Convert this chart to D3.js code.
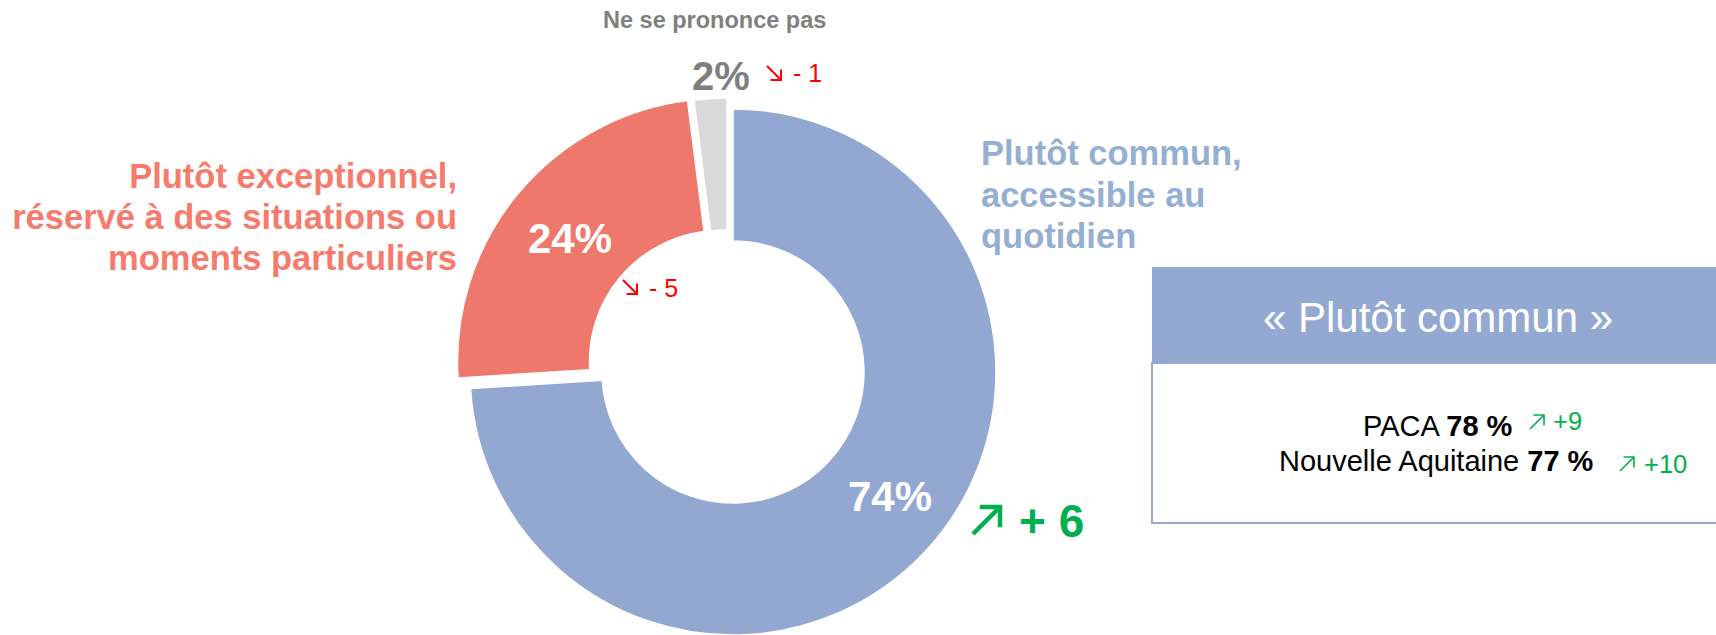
<!DOCTYPE html>
<html>
<head>
<meta charset="utf-8">
<script src="https://cdn.jsdelivr.net/npm/d3@7"></script>
<style>
  html, body { margin: 0; padding: 0; background: #fff; }
  svg { display: block; }
  text { font-family: "Liberation Sans", Arial, sans-serif; }
</style>
</head>
<body>
<svg id="chart" width="1716" height="635"></svg>
<script>
// ---- Data ----
const categories = [
  ["Plutôt commun,", "accessible au", "quotidien"],
  ["Plutôt exceptionnel,", "réservé à des situations ou", "moments particuliers"],
  ["Ne se prononce pas"]
];
const values = [74, 24, 2];
const changes = [6, -5, -1];
const boxTitle = "« Plutôt commun »";
const regions = ["PACA", "Nouvelle Aquitaine"];
const regionValues = [78, 77];
const regionChanges = [9, 10];

// ---- Styles / layout ----
const sliceColors = ["#93A8D0", "#EE786C", "#D9D9D9"];
const labelColors = ["#95AFD3", "#F77B6D", "#7F7F7F"];
const green = "#00B050", red = "#FF0000";
const center = [733, 372];
const outerR = 263, innerR = 131;
const explode = [[0, 0], [-12.5, -10.5], [-6, -11]];

const svg = d3.select("#chart");

const pie = d3.pie().sort(null).value(d => d);
const arc = d3.arc().innerRadius(innerR).outerRadius(outerR);
const arcs = pie(values);

svg.append("g")
  .selectAll("path")
  .data(arcs)
  .join("path")
  .attr("transform", (d, i) => `translate(${center[0] + explode[i][0]},${center[1] + explode[i][1]})`)
  .attr("d", arc)
  .attr("fill", (d, i) => sliceColors[i])
  .attr("stroke", "#fff")
  .attr("stroke-width", 1.5);

// arrow helper
function arrow(g, x, y, s, up, color, w) {
  const h = s * 0.75;
  let p;
  if (up) {
    p = `M${x},${y + s}L${x + s},${y}M${x + s - h},${y}L${x + s},${y}L${x + s},${y + h}`;
  } else {
    p = `M${x},${y}L${x + s},${y + s}M${x + s},${y + s - h}L${x + s},${y + s}L${x + s - h},${y + s}`;
  }
  g.append("path").attr("d", p).attr("fill", "none").attr("stroke", color)
    .attr("stroke-width", w).attr("stroke-linecap", "butt").attr("stroke-linejoin", "miter");
}
const fmtChange = v => (v > 0 ? "+ " : "- ") + Math.abs(v);

const ann = svg.append("g");

// Category labels
ann.append("text").attr("x", 981).attr("y", 165)
  .attr("fill", labelColors[0]).attr("font-size", 34.5).attr("font-weight", "bold")
  .selectAll("tspan").data(categories[0]).join("tspan")
  .attr("x", 981).attr("dy", (d, i) => i === 0 ? 0 : 41.5).text(d => d);

ann.append("text").attr("x", 457).attr("y", 188)
  .attr("fill", labelColors[1]).attr("font-size", 34.5).attr("font-weight", "bold")
  .attr("text-anchor", "end")
  .selectAll("tspan").data(categories[1]).join("tspan")
  .attr("x", 457).attr("dy", (d, i) => i === 0 ? 0 : 41).text(d => d);

ann.append("text").attr("x", 603).attr("y", 28)
  .attr("fill", labelColors[2]).attr("font-size", 23.5).attr("font-weight", "bold")
  .text(categories[2][0]);

// Percentages
ann.append("text").attr("x", 890).attr("y", 511).attr("text-anchor", "middle")
  .attr("fill", "#fff").attr("font-size", 42).attr("font-weight", "bold").text(values[0] + "%");
ann.append("text").attr("x", 570).attr("y", 253).attr("text-anchor", "middle")
  .attr("fill", "#fff").attr("font-size", 42).attr("font-weight", "bold").text(values[1] + "%");
ann.append("text").attr("x", 692).attr("y", 90)
  .attr("fill", "#7F7F7F").attr("font-size", 40).attr("font-weight", "bold").text(values[2] + "%");

// Changes
arrow(ann, 973, 507, 27, true, green, 4.5);
ann.append("text").attr("x", 1019).attr("y", 537)
  .attr("fill", green).attr("font-size", 46).attr("font-weight", "bold").text(fmtChange(changes[0]));

arrow(ann, 623, 280, 14, false, red, 2);
ann.append("text").attr("x", 649).attr("y", 297)
  .attr("fill", red).attr("font-size", 25).text(fmtChange(changes[1]));

arrow(ann, 767, 66, 14, false, red, 2);
ann.append("text").attr("x", 793).attr("y", 82)
  .attr("fill", red).attr("font-size", 25).text(fmtChange(changes[2]));

// Box
const box = svg.append("g");
box.append("rect").attr("x", 1152).attr("y", 363).attr("width", 620).attr("height", 160)
  .attr("fill", "#fff").attr("stroke", "#95A9D3").attr("stroke-width", 2);
box.append("rect").attr("x", 1152).attr("y", 267).attr("width", 620).attr("height", 96)
  .attr("fill", "#93A9D1");
box.append("text").attr("x", 1438).attr("y", 332).attr("text-anchor", "middle")
  .attr("fill", "#fff").attr("font-size", 42).text(boxTitle);

const rowX = [1363, 1279], rowY = [436, 471];
const arrX = [1530, 1620], arrY = [415, 457];
const chgX = [1553, 1644], chgY = [430, 473];
regions.forEach((r, i) => {
  const t = box.append("text").attr("x", rowX[i]).attr("y", rowY[i])
    .attr("fill", "#000").attr("font-size", 29);
  t.append("tspan").text(r + " ");
  t.append("tspan").attr("font-weight", "bold").text(regionValues[i] + " %");
  arrow(box, arrX[i], arrY[i], 14, true, green, 1.6);
  box.append("text").attr("x", chgX[i]).attr("y", chgY[i])
    .attr("fill", green).attr("font-size", 25.5).text("+" + regionChanges[i]);
});
</script>
</body>
</html>
